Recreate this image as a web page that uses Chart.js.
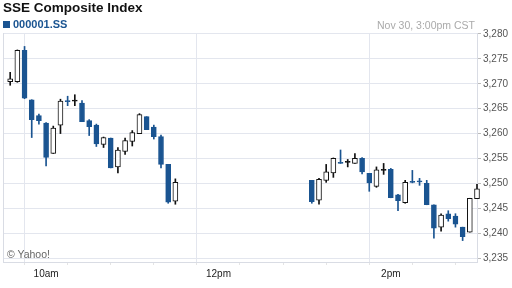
<!DOCTYPE html>
<html><head><meta charset="utf-8">
<script src="https://cdn.jsdelivr.net/npm/chart.js@4/dist/chart.umd.min.js"></script>
<style>
html,body{margin:0;padding:0;background:#fff;width:512px;height:288px;overflow:hidden;font-family:"Liberation Sans",Arial,sans-serif}
#wrap{position:relative;width:512px;height:288px}
canvas{position:absolute;left:0;top:0}
.t{position:absolute;white-space:nowrap;line-height:normal}
</style></head><body>
<div id="wrap">
<canvas id="c" width="512" height="288"></canvas>
<div class="t" style="left:3px;top:0px;font-size:13.5px;font-weight:bold;color:#111">SSE Composite Index</div>
<div class="t" style="left:3px;top:21px;width:7px;height:7px;background:#1a5491"></div>
<div class="t" style="left:13px;top:18px;font-size:11px;font-weight:bold;color:#1a5491">000001.SS</div>
<div class="t" style="right:37px;top:18.5px;font-size:10.5px;color:#aaa">Nov 30, 3:00pm CST</div>
<div class="t" style="left:7px;top:247.5px;font-size:10.5px;color:#666">© Yahoo!</div>
</div>
<script>
const times = [
 "09:35","09:40","09:45","09:50","09:55","10:00","10:05","10:10","10:15","10:20","10:25","10:30",
 "10:35","10:40","10:45","10:50","10:55","11:00","11:05","11:10","11:15","11:20","11:25","11:30",
 "13:05","13:10","13:15","13:20","13:25","13:30","13:35","13:40","13:45","13:50","13:55","14:00",
 "14:05","14:10","14:15","14:20","14:25","14:30","14:35","14:40","14:45","14:50","14:55","15:00"];
const opens = [
 3270.4,3270.4,3276.7,3266.8,3263.6,3262.1,3256.0,3261.7,3266.5,3266.5,3266.1,3262.6,
 3261.7,3257.8,3259.1,3253.3,3256.4,3258.4,3260.0,3263.4,3261.3,3259.4,3253.8,3246.4,
 3250.6,3246.6,3250.6,3252.1,3254.1,3254.2,3254.0,3255.0,3252.0,3249.4,3252.6,3252.8,
 3247.7,3246.1,3250.3,3250.4,3250.0,3245.7,3241.2,3243.9,3243.4,3241.2,3240.2,3246.9];
const highs = [
 3272.3,3276.8,3277.5,3266.8,3263.9,3262.2,3261.5,3266.9,3267.5,3267.8,3266.6,3262.8,
 3261.9,3259.3,3259.1,3257.2,3259.1,3260.6,3264.0,3263.4,3261.7,3259.7,3253.8,3250.9,
 3250.6,3251.0,3253.8,3255.1,3256.7,3254.8,3256.0,3255.2,3252.0,3253.3,3254.0,3253.0,
 3247.8,3250.6,3252.6,3251.0,3250.6,3245.7,3243.9,3244.5,3243.9,3241.2,3247.0,3249.8];
const lows = [
 3269.7,3270.3,3267.0,3259.2,3261.9,3253.5,3256.0,3260.0,3265.6,3265.6,3262.4,3259.6,
 3257.4,3257.2,3253.1,3252.1,3255.8,3257.5,3260.0,3260.8,3258.9,3253.1,3246.0,3245.8,
 3246.0,3245.8,3250.2,3251.2,3254.0,3253.3,3254.0,3251.9,3248.4,3249.2,3251.8,3247.1,
 3244.5,3246.0,3250.1,3249.6,3245.7,3239.0,3240.4,3242.4,3241.2,3238.5,3240.2,3246.9];
const closes = [
 3271.0,3276.7,3267.1,3262.8,3262.6,3255.2,3261.1,3266.5,3266.4,3266.6,3262.4,3261.4,
 3257.9,3259.2,3253.1,3256.7,3258.6,3260.2,3263.8,3260.8,3259.4,3253.8,3246.2,3250.2,
 3246.3,3250.8,3252.3,3255.0,3254.0,3254.3,3255.0,3252.3,3250.1,3252.7,3252.7,3247.1,
 3246.5,3250.2,3250.2,3250.3,3245.7,3241.0,3243.6,3242.9,3241.8,3239.3,3247.0,3248.9];
const xTickTimes = ["10:00","12:00","14:00"];
const xTickLabels = ["10am","12pm","2pm"];
const yTicks = [3235,3240,3245,3250,3255,3260,3265,3270,3275,3280];

const BLUE = '#1a5491', DARK = '#111111', GRID = '#e3e6ee', BORDER = '#d9dce4';
const toMin = s => { const p = s.split(':').map(Number); return p[0]*60 + p[1]; };
const xs = times.map(toMin);
const majorX = xTickTimes.map(toMin);
const isUp = i => closes[i] >= opens[i];
const isDoji = i => Math.abs(closes[i] - opens[i]) < 0.25;

const bodyData = xs.map((x, i) => ({x: x, y: [opens[i], closes[i]]}));
const wickData = xs.map((x, i) => ({x: x, y: [lows[i], highs[i]]}));
const bodyBg = xs.map((x, i) => isUp(i) ? (isDoji(i) ? DARK : '#ffffff') : BLUE);
const bodyBd = xs.map((x, i) => isUp(i) ? DARK : BLUE);
const wickCol = xs.map((x, i) => isUp(i) ? DARK : BLUE);

const fmt = v => String(v).replace(/\B(?=(\d{3})+(?!\d))/g, ',');

const frame = {
  id: 'frame',
  beforeDatasetsDraw(chart) {
    const {ctx, chartArea: a} = chart;
    ctx.save();
    ctx.strokeStyle = BORDER; ctx.lineWidth = 1;
    ctx.beginPath();
    ctx.moveTo(a.left + 0.5, a.bottom);
    ctx.lineTo(a.left + 0.5, a.top);
    ctx.stroke();
    ctx.restore();
  }
};

Chart.defaults.font.family = '"Liberation Sans", Arial, sans-serif';
new Chart(document.getElementById('c'), {
  type: 'bar',
  data: { datasets: [
    { data: bodyData, grouped: false, barThickness: 5, minBarLength: 1, clip: false,
      backgroundColor: bodyBg, borderColor: bodyBd, borderWidth: 1, borderSkipped: false },
    { data: wickData, grouped: false, barThickness: 1, clip: false,
      backgroundColor: wickCol, borderWidth: 0 }
  ]},
  options: {
    responsive: false, animation: false, events: [],
    layout: { padding: { top: 33, left: 3, right: 0, bottom: 0 } },
    plugins: { legend: { display: false }, tooltip: { enabled: false } },
    scales: {
      x: {
        type: 'linear', min: 570, max: 900, offset: false,
        ticks: { stepSize: 30, autoSkip: false, maxRotation: 0, padding: 3,
          color: '#222', font: { size: 10 },
          callback: v => { const k = majorX.indexOf(v); return k >= 0 ? xTickLabels[k] : ''; } },
        grid: { color: c => (c.tick && majorX.includes(c.tick.value)) ? GRID : 'rgba(0,0,0,0)',
          tickColor: '#e4e4e4', tickLength: 3 },
        border: { display: true, color: BORDER },
        afterFit: s => { s.height = 26; }
      },
      y: {
        position: 'right', min: 3234.2, max: 3280.2,
        afterBuildTicks: s => { s.ticks = yTicks.map(v => ({value: v})); },
        ticks: { padding: 2, color: '#555', font: { size: 10 }, callback: v => fmt(v) },
        grid: { color: GRID, tickColor: '#bbbbbb', tickLength: 4 },
        border: { display: true, color: BORDER },
        afterFit: s => { s.width = 35; }
      }
    }
  },
  plugins: [frame]
});
</script>
</body></html>
